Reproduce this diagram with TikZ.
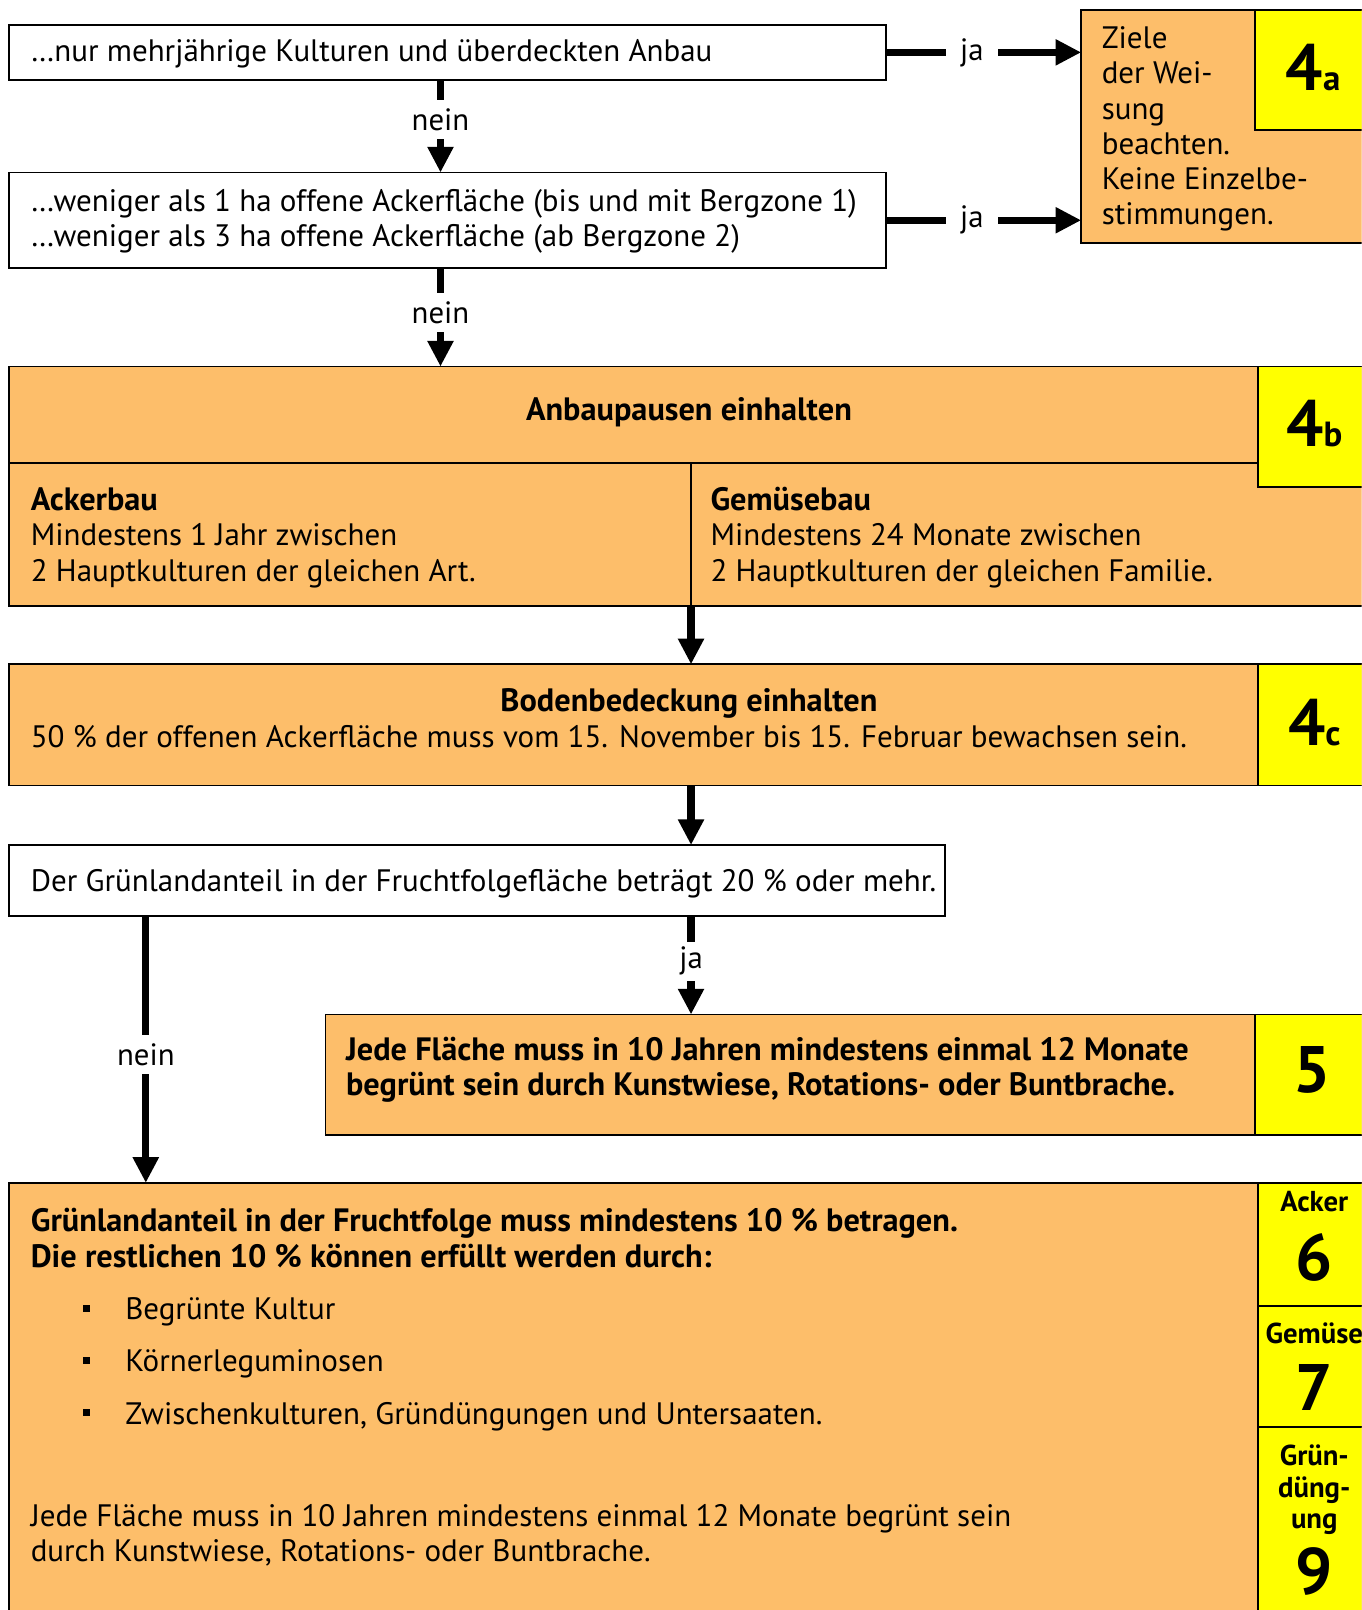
\documentclass[tikz,border=0pt]{standalone}
\usepackage{fontspec}
\setmainfont{PT Sans}
\usetikzlibrary{arrows.meta}
\definecolor{boxorange}{RGB}{253,190,106}
\definecolor{numyellow}{RGB}{255,255,0}
\begin{document}
\begin{tikzpicture}[x=1pt,y=-1pt,
  every node/.style={inner sep=0pt, outer sep=0pt},
  frame/.style={draw=black, line width=1.8pt},
  wbox/.style={frame, fill=white, anchor=north west},
  obox/.style={frame, fill=boxorange, anchor=north west},
  ybox/.style={frame, fill=numyellow, anchor=north west},
  txt/.style={anchor=base west, font=\fontsize{30.2}{34}\selectfont},
  btxt/.style={anchor=base west, font=\fontsize{31.5}{34}\selectfont\bfseries},
  ctitle/.style={anchor=base, font=\fontsize{31.5}{34}\selectfont\bfseries},
  num/.style={anchor=base, font=\fontsize{64}{64}\selectfont\bfseries},
  numlbl/.style={anchor=base, font=\fontsize{28}{28}\selectfont\bfseries},
  arr/.style={line width=7pt, -{Triangle[length=25pt,width=24pt]}},
  vlbl/.style={fill=white, inner xsep=3pt, minimum height=38pt, font=\fontsize{30}{30}\selectfont},
  hlbl/.style={fill=white, minimum width=50pt, minimum height=20pt, font=\fontsize{30}{30}\selectfont},
  bulletsq/.style={fill=black, minimum size=7pt, anchor=center}
]
\useasboundingbox (0,0) rectangle (1326,1568);
\clip (0,0) rectangle (1326,1568);
\fill[white] (0,0) rectangle (1326,1568);

% boxes
\node[wbox, minimum width=854, minimum height=54] (q1) at (9,24) {};
\node[wbox, minimum width=854, minimum height=93] (q2) at (9,168) {};
\node[obox, minimum width=300, minimum height=227] (a4) at (1053,10) {};
\node[ybox, minimum width=130, minimum height=117] (y4a) at (1222,10) {};

\node[obox, minimum width=1340, minimum height=233] (b4) at (9,357) {};
\node[ybox, minimum width=120, minimum height=117] (y4b) at (1225,357) {};
\coordinate (hl) at (9,451);
\coordinate (div) at (673,451);
\draw[frame] (hl) -- (hl -| y4b.west);
\draw[frame] (div) -- (div |- b4.south);

\node[obox, minimum width=1340, minimum height=118] (c4) at (9,647) {};
\node[ybox, minimum width=120, minimum height=118] (y4c) at (1225,647) {};

\node[wbox, minimum width=911, minimum height=69] (g) at (9,823) {};

\node[obox, minimum width=1030, minimum height=117] (f5) at (317,988) {};
\node[ybox, minimum width=120, minimum height=117] (y5) at (1222,988) {};

\node[obox, minimum width=1340, minimum height=430] (s6) at (9,1152) {};
\node[ybox, minimum width=120, minimum height=120] (y6) at (1225,1152) {};
\node[ybox, minimum width=120, minimum height=118] (y7) at (1225,1272) {};
\node[ybox, minimum width=120, minimum height=200] (y9) at (1225,1390) {};

% connectors
\coordinate (ax) at (429,0);
\coordinate (nx) at (142,0);
\draw[arr] (ax |- q1.south) -- node[vlbl, pos=0.43]{nein} (ax |- q2.north);
\draw[arr] (ax |- q2.south) -- node[vlbl, pos=0.45]{nein} (ax |- b4.north);
\draw[arr] (q1.east) -- node[hlbl, pos=0.44]{ja} (q1.east -| a4.west);
\draw[arr] (q2.east) -- node[hlbl, pos=0.44]{ja} (q2.east -| a4.west);
\draw[arr] (div |- b4.south) -- (div |- c4.north);
\draw[arr] (div |- c4.south) -- (div |- g.north);
\draw[arr] (div |- g.south) -- node[vlbl, pos=0.46]{ja} (div |- f5.north);
\draw[arr] (nx |- g.south) -- node[vlbl, pos=0.52]{nein} (nx |- s6.north);

% texts
\node[txt] (t1) at (30,60) {…nur mehrjährige Kulturen und überdeckten Anbau};
\node[txt] (t2a) at (30,206) {…weniger als 1 ha offene Ackerfläche (bis und mit Bergzone 1)};
\node[txt] (t2b) at (30,240) {…weniger als 3 ha offene Ackerfläche (ab Bergzone 2)};

\node[txt] (a1) at (1073,47) {Ziele};
\node[txt] (a2) at (1073,81) {der Wei-};
\node[txt] (a3) at (1073,116) {sung};
\node[txt] (a4t) at (1073,150) {beachten.};
\node[txt] (a5) at (1073,185) {Keine Einzelbe-};
\node[txt] (a6) at (1073,219) {stimmungen.};
\node[num] (n4a) at (1279,88) {4\fontsize{34}{34}\selectfont a};

\node[ctitle] (b4t) at (671,410) {Anbaupausen einhalten};
\node[num] (n4b) at (1280,435) {4\fontsize{34}{34}\selectfont b};
\node[btxt] (bl1) at (30,497) {Ackerbau};
\node[txt] (bl2) at (30,531) {Mindestens 1 Jahr zwischen};
\node[txt] (bl3) at (30,566) {2 Hauptkulturen der gleichen Art.};
\node[btxt] (br1) at (692,497) {Gemüsebau};
\node[txt] (br2) at (692,531) {Mindestens 24 Monate zwischen};
\node[txt] (br3) at (692,566) {2 Hauptkulturen der gleichen Familie.};

\node[ctitle] (c4t) at (671,693) {Bodenbedeckung einhalten};
\node[txt] (c4l) at (30,728) {50 \% der offenen Ackerfläche muss vom 15. November bis 15. Februar bewachsen sein.};
\node[num] (n4c) at (1280,726) {4\fontsize{34}{34}\selectfont c};

\node[txt] (gt) at (30,868) {Der Grünlandanteil in der Fruchtfolgefläche beträgt 20 \% oder mehr.};

\node[btxt] (f1) at (337,1033) {Jede Fläche muss in 10 Jahren mindestens einmal 12 Monate};
\node[btxt] (f2) at (337,1067) {begrünt sein durch Kunstwiese, Rotations- oder Buntbrache.};
\node[num] (n5) at (1278,1064) {5};

\node[btxt] (s1) at (30,1199) {Grünlandanteil in der Fruchtfolge muss mindestens 10 \% betragen.};
\node[btxt] (s2) at (30,1234) {Die restlichen 10 \% können erfüllt werden durch:};
\node[bulletsq] (bu1) at (84,1274) {};
\node[bulletsq] (bu2) at (84,1325) {};
\node[bulletsq] (bu3) at (84,1376) {};
\node[txt] (s3) at (122,1285) {Begrünte Kultur};
\node[txt] (s4) at (122,1336) {Körnerleguminosen};
\node[txt] (s5) at (122,1387) {Zwischenkulturen, Gründüngungen und Untersaaten.};
\node[txt] (s6a) at (30,1487) {Jede Fläche muss in 10 Jahren mindestens einmal 12 Monate begrünt sein};
\node[txt] (s6b) at (30,1521) {durch Kunstwiese, Rotations- oder Buntbrache.};

\node[numlbl] (l6) at (1280,1180) {Acker};
\node[num] (n6) at (1280,1247) {6};
\node[numlbl] (l7) at (1280,1308) {Gemüse};
\node[num] (n7) at (1280,1374) {7};
\node[numlbl] (l9a) at (1280,1427) {Grün-};
\node[numlbl] (l9b) at (1280,1458) {düng-};
\node[numlbl] (l9c) at (1280,1489) {ung};
\node[num] (n9) at (1280,1553) {9};
\end{tikzpicture}
\end{document}
